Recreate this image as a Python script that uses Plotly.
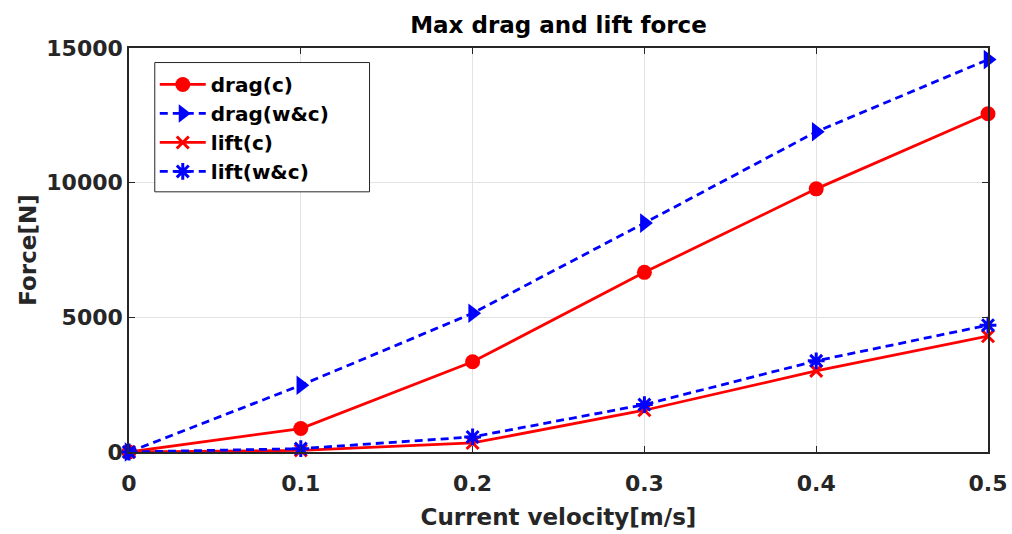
import plotly.graph_objects as go

# Current velocity [m/s]
velocity = [0, 0.1, 0.2, 0.3, 0.4, 0.5]

# Maximum forces [N]
drag_c = [0, 870, 3350, 6670, 9770, 12560]
drag_wc = [0, 2480, 5150, 8500, 11890, 14570]
lift_c = [0, 60, 335, 1550, 3010, 4300]
lift_wc = [0, 125, 560, 1760, 3385, 4710]

x_ticks = [0, 0.1, 0.2, 0.3, 0.4, 0.5]
x_ticktext = ["0", "0.1", "0.2", "0.3", "0.4", "0.5"]
y_ticks = [0, 5000, 10000, 15000]
y_ticktext = ["0", "5000", "10000", "15000"]

RED = "#ff0000"
BLUE = "#0000ff"
FONT = "DejaVu Sans, Liberation Sans, Arial, sans-serif"
AXIS_COLOR = "#262626"

fig = go.Figure()

fig.add_trace(go.Scatter(
    x=velocity, y=drag_c, name="drag(c)", mode="lines+markers",
    line=dict(color=RED, width=2.8),
    marker=dict(symbol="circle", size=15, color=RED),
    cliponaxis=False,
))
fig.add_trace(go.Scatter(
    x=velocity, y=drag_wc, name="drag(w&c)", mode="lines+markers",
    line=dict(color=BLUE, width=2.8, dash="8px,5px"),
    marker=dict(symbol="triangle-right", size=17, color=BLUE),
    cliponaxis=False,
))
fig.add_trace(go.Scatter(
    x=velocity, y=lift_c, name="lift(c)", mode="lines+markers",
    line=dict(color=RED, width=2.8),
    marker=dict(symbol="x-thin", size=12, color=RED,
                line=dict(color=RED, width=3)),
    cliponaxis=False,
))
fig.add_trace(go.Scatter(
    x=velocity, y=lift_wc, name="lift(w&c)", mode="lines+markers",
    line=dict(color=BLUE, width=2.8, dash="8px,5px"),
    marker=dict(symbol="asterisk", size=14, color=BLUE,
                line=dict(color=BLUE, width=3)),
    cliponaxis=False,
))

axis_common = dict(
    showline=True, linecolor=AXIS_COLOR, linewidth=1.5, mirror="ticks",
    ticks="inside", ticklen=6, tickcolor=AXIS_COLOR, tickwidth=1,
    showgrid=True, gridcolor="#e3e3e3", gridwidth=1,
    zeroline=False, automargin=False,
    tickfont=dict(family=FONT, size=22, color=AXIS_COLOR, weight="bold"),
)

fig.update_xaxes(
    range=[0, 0.5], tickvals=x_ticks, ticktext=x_ticktext,
    ticklabelstandoff=11,
    title=dict(text="Current velocity[m/s]", standoff=14,
               font=dict(family=FONT, size=23, color=AXIS_COLOR, weight="bold")),
    **axis_common,
)
fig.update_yaxes(
    range=[0, 15000], tickvals=y_ticks, ticktext=y_ticktext,
    title=dict(text="Force[N]", standoff=3,
               font=dict(family=FONT, size=23, color=AXIS_COLOR, weight="bold")),
    **axis_common,
)

# White legend frame with a thin dark border (legend entries are drawn on top)
fig.add_shape(
    type="rect", xref="paper", yref="paper",
    x0=0.030, x1=0.280, y0=0.644, y1=0.964,
    line=dict(color=AXIS_COLOR, width=1), fillcolor="white", layer="above",
)

fig.update_layout(
    width=1012, height=534,
    margin=dict(l=129, r=24, t=48, b=82),
    paper_bgcolor="white", plot_bgcolor="white",
    title=dict(text="Max drag and lift force", xref="paper", x=0.5,
               xanchor="center", y=0.953, yanchor="middle",
               font=dict(family=FONT, size=23, color="black", weight="bold")),
    legend=dict(
        x=0.03, y=0.958, xanchor="left", yanchor="top",
        bgcolor="rgba(0,0,0,0)", borderwidth=0,
        font=dict(family=FONT, size=20, color="black", weight="bold"),
        itemwidth=46, tracegroupgap=0,
    ),
    showlegend=True,
)

fig.write_html("out.html")
